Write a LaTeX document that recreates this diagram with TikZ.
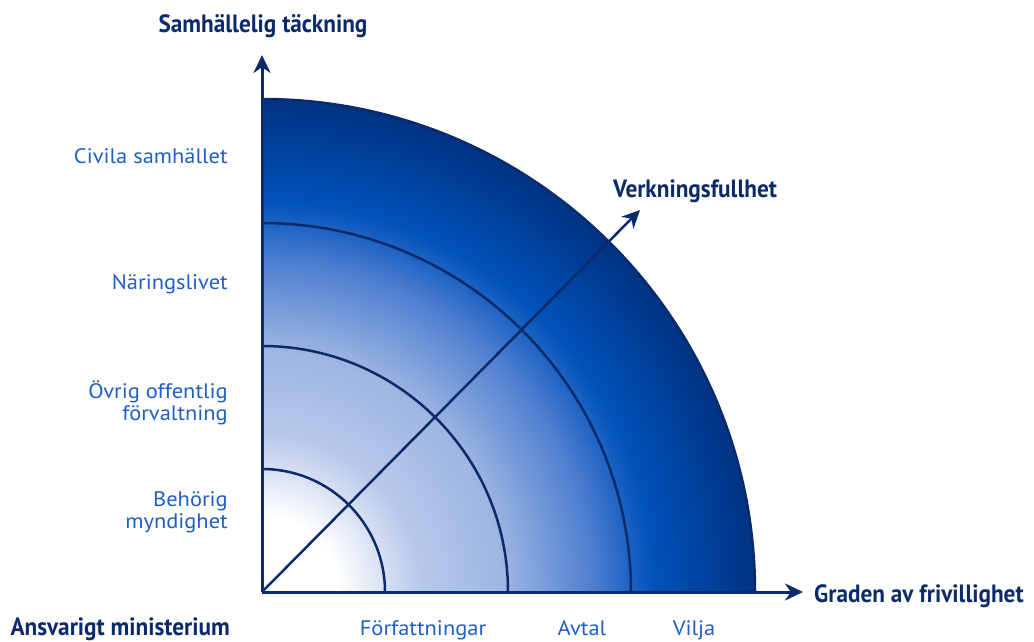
\documentclass[tikz,border=0pt]{standalone}
\usepackage{fontspec}
\setmainfont{PT Sans}
\newfontfamily\headfont[FakeStretch=0.93]{PT Sans}
\newfontfamily\lvlfont[FakeStretch=1.07]{PT Sans}
\usetikzlibrary{arrows.meta}

\definecolor{navy}{HTML}{0B2A6B}
\definecolor{labelblue}{HTML}{1F5FC4}
\definecolor{ringa}{HTML}{B8C8EA}
\definecolor{ringb}{HTML}{9FB7E2}
\definecolor{ringc}{HTML}{4F7FD0}
\definecolor{ringd}{HTML}{0052BA}
\definecolor{ringe}{HTML}{003382}

% shading centred on the origin, 25bp = outer ring
\pgfdeclareradialshading{ringshade}{\pgfpoint{0bp}{0bp}}{%
  color(0bp)=(white); color(3.9bp)=(white); color(8bp)=(ringa);
  color(12.15bp)=(ringb); color(16.75bp)=(ringc); color(19.8bp)=(ringd);
  color(25bp)=(ringe); color(50bp)=(ringe)}

\begin{document}
\begin{tikzpicture}[x=1pt,y=1pt,
    axis/.style={draw=navy,line width=3pt,-{Stealth[length=18pt,width=17pt]}},
    ring/.style={draw=navy,line width=2.5pt},
    lvl/.style={text=labelblue,font=\lvlfont\fontsize{21}{22}\selectfont,inner sep=0pt},
    head/.style={text=navy,font=\headfont\bfseries\fontsize{25}{30}\selectfont,inner sep=0pt}]
  \useasboundingbox (0,0) rectangle (1034,641);
  \coordinate (o) at (262,49);

  % quarter disc with the rings
  \begin{scope}
    \clip (o) -- ++(493,0) arc (0:90:493) -- cycle;
    \shade[shading=ringshade] (o) circle (493);
  \end{scope}
  \foreach \r in {123,246,369}
    \draw[ring] (o) ++(\r,0) arc (0:90:\r);
  \draw[ring] (o) ++(493,0) arc (0:90:493);

  % axes
  \coordinate (ytip) at (262,586);
  \coordinate (xtip) at (803,49);
  \coordinate (dtip) at (640,431);
  \draw[axis] (o) -- (ytip);
  \draw[axis] (o) -- (xtip);
  \draw[axis,line width=2.5pt] (o) -- (dtip);

  \node[head,anchor=base] (samh) at (263,608) {Samhällelig täckning};
  \node[head,anchor=base west] (grad) at (814,39) {Graden av frivillighet};
  \node[head,anchor=base west] (verk) at (613,443) {Verkningsfullhet};
  \node[head,anchor=base east] (ansv) at (230,6) {Ansvarigt ministerium};

  \node[lvl,anchor=base east] (civ) at (228,477) {Civila samhället};
  \node[lvl,anchor=base east] (nar) at (228,351) {Näringslivet};
  \node[lvl,anchor=base east,align=right] (ovr) at (228,221) {Övrig offentlig\\förvaltning};
  \node[lvl,anchor=base east,align=right] (beh) at (228,113) {Behörig\\myndighet};

  \node[lvl,anchor=base] (forf) at (423,6) {Författningar};
  \node[lvl,anchor=base] (avt) at (582,6) {Avtal};
  \node[lvl,anchor=base] (vil) at (694,6) {Vilja};
\end{tikzpicture}
\end{document}
